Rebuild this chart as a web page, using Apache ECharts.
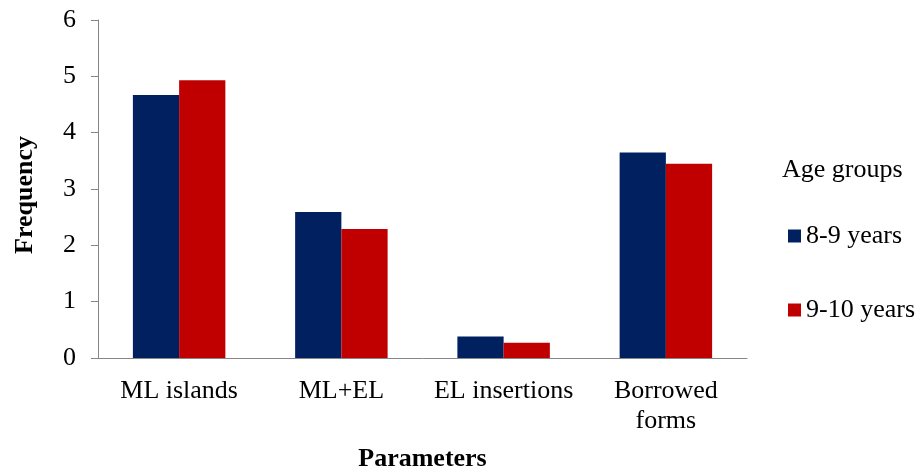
<!DOCTYPE html>
<html>
<head>
<meta charset="utf-8">
<script src="https://cdn.jsdelivr.net/npm/echarts@6/dist/echarts.min.js"></script>
<style>
  html, body { margin: 0; padding: 0; background: #fff; }
  #chart { width: 917px; height: 470px; }
</style>
</head>
<body>
<div id="chart"></div>
<script>
// Mixed-language parameters by age group
const categories = ['ML islands', 'ML+EL', 'EL insertions', 'Borrowed forms'];
const seriesNames = ['8-9 years', '9-10 years'];
const age8to9 = [4.67, 2.59, 0.38, 3.65];
const age9to10 = [4.93, 2.29, 0.27, 3.45];
const yTicks = { min: 0, max: 6, interval: 1 };

const FONT = 'Liberation Serif';
const AXIS_GREY = '#868686';
const serifText = { fontFamily: FONT, fontSize: 26, color: '#000', lineHeight: 30 };

const chart = echarts.init(document.getElementById('chart'));
chart.setOption({
  animation: false,
  textStyle: { fontFamily: FONT, color: '#000' },
  grid: { left: 98, right: 170, top: 20, bottom: 112, outerBoundsMode: 'none', containLabel: false },
  title: {
    text: 'Age groups',
    left: 777,
    top: 152,
    textStyle: { fontFamily: FONT, fontWeight: 'normal', fontSize: 26, color: '#000' }
  },
  legend: {
    orient: 'vertical',
    left: 783,
    top: 218,
    itemWidth: 13,
    itemHeight: 13,
    itemGap: 48,
    icon: 'rect',
    data: seriesNames,
    formatter: (name) => '{t|' + name + '}',
    textStyle: { fontFamily: FONT, fontSize: 26, color: '#000', rich: { t: serifText } }
  },
  xAxis: {
    type: 'category',
    data: categories,
    name: 'Parameters',
    nameLocation: 'middle',
    nameGap: 88,
    nameTextStyle: { fontFamily: FONT, fontWeight: 'bold', fontSize: 26, color: '#000' },
    axisLine: { lineStyle: { color: AXIS_GREY, width: 1 } },
    axisTick: { length: 8, lineStyle: { color: AXIS_GREY } },
    axisLabel: {
      fontFamily: FONT, fontSize: 26, color: '#000', margin: 18, lineHeight: 30,
      interval: 0,
      // long names wrap onto a second line
      formatter: (v) => v === 'Borrowed forms' ? '{t|Borrowed}\n{t|forms}' : '{t|' + v + '}',
      rich: { t: serifText }
    }
  },
  yAxis: {
    type: 'value',
    min: yTicks.min,
    max: yTicks.max,
    interval: yTicks.interval,
    name: 'Frequency',
    nameLocation: 'middle',
    nameGap: 60,
    nameTextStyle: { fontFamily: FONT, fontWeight: 'bold', fontSize: 26, color: '#000', padding: [0, 12, 0, 0] },
    axisLine: { show: true, lineStyle: { color: AXIS_GREY, width: 1 } },
    axisTick: { show: true, length: 7, lineStyle: { color: AXIS_GREY } },
    splitLine: { show: false },
    axisLabel: { fontFamily: FONT, fontSize: 26, color: '#000', margin: 22 }
  },
  series: [
    {
      name: seriesNames[0],
      type: 'bar',
      data: age8to9,
      barGap: '0%',
      barCategoryGap: '43%',
      itemStyle: { color: '#002060' }
    },
    {
      name: seriesNames[1],
      type: 'bar',
      data: age9to10,
      itemStyle: { color: '#C00000' }
    }
  ]
});
</script>
</body>
</html>
